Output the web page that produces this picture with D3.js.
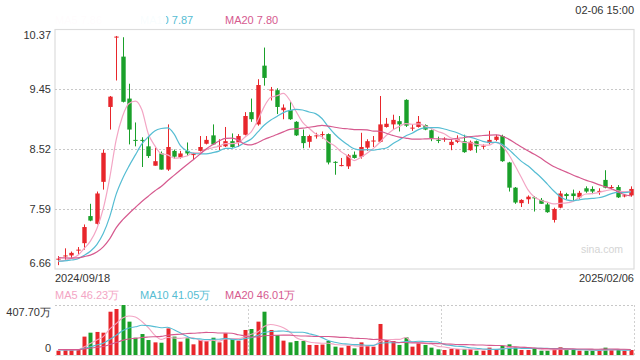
<!DOCTYPE html>
<html><head><meta charset="utf-8">
<script src="https://cdn.jsdelivr.net/npm/d3@7/dist/d3.min.js"></script>
<style>body{margin:0;background:#fff}svg{display:block;font-family:"Liberation Sans",Arial,sans-serif}</style>
</head><body><svg id="c" width="640" height="360"></svg>
<script>
// ---- data ----
const monthDays = [
  ["2024-09", [18,19,20,23,24,25,26,27,30]],
  ["2024-10", [8,9,10,11,14,15,16,17,18,21,22,23,24,25,28,29,30,31]],
  ["2024-11", [1,4,5,6,7,8,11,12,13,14,15,18,19,20,21,22,25,26,27,28,29]],
  ["2024-12", [2,3,4,5,6,9,10,11,12,13,16,17,18,19,20,23,24,25,26,27,30,31]],
  ["2025-01", [2,3,6,7,8,9,10,13,14,15,16,17,20,21,22,23,24,27]],
  ["2025-02", [5,6]]
];
const dates = monthDays.flatMap(([m, ds]) => ds.map(d => m + "-" + String(d).padStart(2, "0")));

const open = [6.81,6.86,6.87,6.95,7.06,7.48,7.36,8.01,9.17,10.25,
  9.95,9.30,8.66,8.66,8.56,8.26,8.45,8.20,8.49,8.39,
  8.49,8.43,8.49,8.60,8.73,8.56,8.56,8.64,8.62,8.74,
  9.09,8.90,9.81,9.43,9.43,9.12,9.12,8.94,8.72,8.63,
  8.72,8.74,8.75,8.32,8.26,8.25,8.43,8.40,8.54,8.64,
  8.63,8.86,8.90,8.95,9.28,8.84,8.86,8.89,8.81,8.66,
  8.67,8.58,8.63,8.64,8.50,8.64,8.56,8.61,8.66,8.72,
  8.31,7.92,7.68,7.74,7.77,7.73,7.66,7.42,7.61,7.82,
  7.83,7.77,7.91,7.90,7.86,8.04,7.92,7.93,7.79,7.80];
const high = [6.86,6.98,6.93,7.00,7.35,7.67,7.86,8.51,9.34,10.27,
  10.25,9.53,8.93,8.70,8.72,8.54,8.48,8.90,8.51,8.49,
  8.62,8.46,8.72,8.72,8.90,8.67,8.86,8.76,8.75,9.09,
  9.30,9.60,10.09,9.48,9.46,9.21,9.26,8.95,8.82,8.74,
  8.77,8.79,8.76,8.33,8.38,8.44,8.48,8.77,8.67,8.72,
  9.34,9.00,9.05,9.03,9.29,8.90,9.03,8.90,8.82,8.71,
  8.70,8.67,8.73,8.74,8.65,8.65,8.59,8.80,8.74,8.74,
  8.32,7.93,7.74,7.80,7.79,7.76,7.69,7.61,7.87,7.84,
  7.89,7.87,7.94,7.94,7.91,8.19,7.96,7.96,7.82,7.94];
const low = [6.72,6.80,6.83,6.88,6.96,7.40,7.35,7.89,8.82,9.58,
  9.24,8.59,8.56,8.24,8.38,8.26,8.20,8.18,8.37,8.37,
  8.41,8.36,8.48,8.59,8.58,8.50,8.55,8.54,8.55,8.73,
  8.94,8.88,9.50,9.27,9.06,8.98,8.97,8.72,8.53,8.54,
  8.68,8.68,8.28,8.12,8.25,8.21,8.37,8.37,8.49,8.55,
  8.62,8.85,8.83,8.79,8.86,8.80,8.85,8.81,8.64,8.61,
  8.63,8.50,8.61,8.46,8.49,8.46,8.52,8.59,8.64,8.32,
  7.86,7.67,7.62,7.67,7.55,7.67,7.53,7.38,7.60,7.74,
  7.71,7.75,7.84,7.82,7.81,7.91,7.89,7.76,7.77,7.78];
const close = [6.82,6.87,6.91,6.96,7.31,7.41,7.83,8.46,9.33,10.26,
  9.25,8.82,8.65,8.65,8.41,8.33,8.20,8.55,8.40,8.45,
  8.45,8.44,8.55,8.66,8.59,8.57,8.64,8.55,8.72,9.03,
  8.98,9.51,9.62,9.44,9.17,9.16,8.98,8.73,8.61,8.72,
  8.73,8.75,8.31,8.31,8.27,8.42,8.38,8.55,8.64,8.65,
  8.90,8.91,8.97,8.90,8.88,8.85,8.94,8.82,8.69,8.65,
  8.68,8.63,8.67,8.47,8.63,8.56,8.57,8.66,8.71,8.33,
  7.92,7.69,7.73,7.78,7.76,7.67,7.54,7.59,7.83,7.79,
  7.79,7.84,7.86,7.86,7.87,7.92,7.93,7.77,7.80,7.90];
// volume in 万 (10k shares)
const volume = [35,46,46,46,150,182,188,182,353,375,
  407.70,272,141,171,122,103,100,217,150,109,
  136,87,122,114,141,103,177,136,117,204,
  212,272,353,204,163,117,103,114,114,82,
  82,85,114,68,60,76,54,103,76,68,
  253,122,114,82,144,68,95,82,60,46,
  41,49,49,49,49,35,35,60,46,76,
  87,63,41,41,54,35,35,46,63,41,
  41,35,35,35,35,60,41,41,35,41];
// closes / volumes of the 19 sessions before the window (feed the moving averages)
const preCloses = [6.98,6.95,6.92,6.90,6.93,6.88,6.85,6.87,6.84,6.80,6.82,6.78,6.80,6.77,6.75,6.79,6.76,6.74,6.78];
const preVolumes = [52,48,55,44,50,47,42,45,51,43,40,46,38,44,41,47,39,42,40];

const priceTicks = [10.37, 9.45, 8.52, 7.59, 6.66];
const volTickLabels = ["407.70万", "0"];
const volTicks = [407.70, 0];
const maPeriods = [5, 10, 20];
const maNames = ["MA5", "MA10", "MA20"];
const priceLegendValues = ["7.86", "7.87", "7.80"];
const volLegendValues = ["46.23万", "41.05万", "46.01万"];
const startLabel = "2024/09/18", endLabel = "2025/02/06", stampLabel = "02-06 15:00";

// ---- styles ----
const RED = "#e8262b", GREEN = "#1aa02a";
const maColors = ["#f3a5c4", "#56bdd3", "#d65a8f"];
const textColor = "#333";

const svg = d3.select("#c");
const L = 55, R = 634, PT = 29.5, PB = 269, VT = 305, VB = 355;

const x = d3.scaleBand().domain(d3.range(dates.length)).range([L, R]);
const cx = i => x(i) + x.bandwidth() / 2;
const y = d3.scaleLinear().domain([6.66, 10.37]).range([PB, PT]);
const yv = d3.scaleLinear().domain([0, 407.70]).range([VB, VT]);

function movingAvg(pre, vals, n) {
  const all = pre.concat(vals), off = pre.length;
  return vals.map((v, i) => d3.mean(all.slice(Math.max(0, off + i - n + 1), off + i + 1)));
}

// frame of price panel
svg.append("rect").attr("x", L).attr("y", PT).attr("width", R - L).attr("height", PB - PT)
  .attr("fill", "none").attr("stroke", "#dcdcdc").attr("stroke-width", 1.2);

// dotted price grid
svg.append("g").selectAll("line").data(priceTicks.slice(1, -1)).join("line")
  .attr("x1", L).attr("x2", R).attr("y1", d => Math.round(y(d)) + 0.5).attr("y2", d => Math.round(y(d)) + 0.5)
  .attr("stroke", "#c8c8c8").attr("stroke-dasharray", "2,2");

// price labels
svg.append("g").selectAll("text").data(priceTicks).join("text")
  .attr("x", 51).attr("y", (d, i) => i === 0 ? PT + 6 : i === priceTicks.length - 1 ? PB - 6 : y(d))
  .attr("dy", "0.35em").attr("text-anchor", "end").attr("font-size", 11).attr("fill", textColor)
  .text(d => d.toFixed(2));

// watermark
svg.append("text").attr("x", 623).attr("y", 253).attr("text-anchor", "end")
  .attr("font-size", 10.5).attr("fill", "#d4d4d4").text("sina.com");

// candles
const cg = svg.append("g");
const idx = d3.range(dates.length);
const col = i => close[i] >= open[i] ? RED : GREEN;
const bw = 4.4;
cg.selectAll("line").data(idx).join("line")
  .attr("x1", i => Math.round(cx(i)) + 0.5).attr("x2", i => Math.round(cx(i)) + 0.5)
  .attr("y1", i => y(high[i])).attr("y2", i => y(low[i]))
  .attr("stroke", col).attr("stroke-width", 1);
cg.selectAll("rect").data(idx).join("rect")
  .attr("x", i => Math.round(cx(i)) + 0.5 - bw / 2).attr("width", bw)
  .attr("y", i => y(Math.max(open[i], close[i])))
  .attr("height", i => Math.max(1, Math.abs(y(open[i]) - y(close[i]))))
  .attr("fill", col);

// price MAs
svg.append("clipPath").attr("id", "pc").append("rect").attr("x", L).attr("y", PT).attr("width", R - L).attr("height", PB - PT);
const mg = svg.append("g").attr("clip-path", "url(#pc)");
maPeriods.forEach((n, k) => {
  const ma = movingAvg(preCloses, close, n);
  mg.append("path").datum(ma)
    .attr("d", d3.line().x((d, i) => cx(i)).y(d => y(d)).curve(d3.curveMonotoneX))
    .attr("fill", "none").attr("stroke", maColors[k]).attr("stroke-width", 1.2);
});

// top legend
const lx = [55, 140, 225];
svg.append("g").selectAll("text").data(maNames).join("text")
  .attr("x", (d, i) => lx[i]).attr("y", 24).attr("font-size", 11)
  .attr("fill", (d, i) => maColors[i]).text((d, i) => d + " " + priceLegendValues[i]);
// faded overlay over the left part of the legend, as in the picture
svg.append("rect").attr("x", 0).attr("y", 0).attr("width", 166).attr("height", 28.5)
  .attr("fill", "#fff").attr("opacity", 0.96);

svg.append("text").attr("x", 634).attr("y", 14).attr("text-anchor", "end")
  .attr("font-size", 11).attr("fill", textColor).text(stampLabel);

// date labels
svg.append("text").attr("x", 55).attr("y", 282).attr("font-size", 11).attr("fill", textColor).text(startLabel);
svg.append("text").attr("x", 634).attr("y", 282).attr("text-anchor", "end").attr("font-size", 11).attr("fill", textColor).text(endLabel);

// volume legend
svg.append("g").selectAll("text").data(maNames).join("text")
  .attr("x", (d, i) => lx[i]).attr("y", 299).attr("font-size", 11)
  .attr("fill", (d, i) => maColors[i]).text((d, i) => d + " " + volLegendValues[i]);

// volume panel grid
svg.append("line").attr("x1", L).attr("x2", R).attr("y1", VT + 0.5).attr("y2", VT + 0.5)
  .attr("stroke", "#c8c8c8").attr("stroke-dasharray", "2,2");
[L + (R - L) / 3, L + 2 * (R - L) / 3, R].forEach(xx => {
  svg.append("line").attr("x1", Math.round(xx) + 0.5).attr("x2", Math.round(xx) + 0.5).attr("y1", VT).attr("y2", VB)
    .attr("stroke", "#d0d0d0").attr("stroke-dasharray", "2,2");
});
svg.append("line").attr("x1", L).attr("x2", R).attr("y1", VB + 0.5).attr("y2", VB + 0.5)
  .attr("stroke", "#e0e0e0");

// volume labels
svg.append("g").selectAll("text").data(volTicks).join("text")
  .attr("x", 51).attr("y", (d, i) => i === 0 ? VT + 7 : VB - 7).attr("dy", "0.35em")
  .attr("text-anchor", "end").attr("font-size", 11).attr("fill", textColor)
  .text((d, i) => volTickLabels[i]);

// volume bars
const vbw = 4;
svg.append("g").selectAll("rect").data(idx).join("rect")
  .attr("x", i => Math.round(cx(i)) + 0.5 - vbw / 2).attr("width", vbw)
  .attr("y", i => yv(volume[i])).attr("height", i => yv(0) - yv(volume[i]))
  .attr("fill", col);

// volume MAs
maPeriods.forEach((n, k) => {
  const ma = movingAvg(preVolumes, volume, n);
  svg.append("path").datum(ma)
    .attr("d", d3.line().x((d, i) => cx(i)).y(d => yv(d)).curve(d3.curveMonotoneX))
    .attr("fill", "none").attr("stroke", maColors[k]).attr("stroke-width", 1.1);
});
</script></body></html>
